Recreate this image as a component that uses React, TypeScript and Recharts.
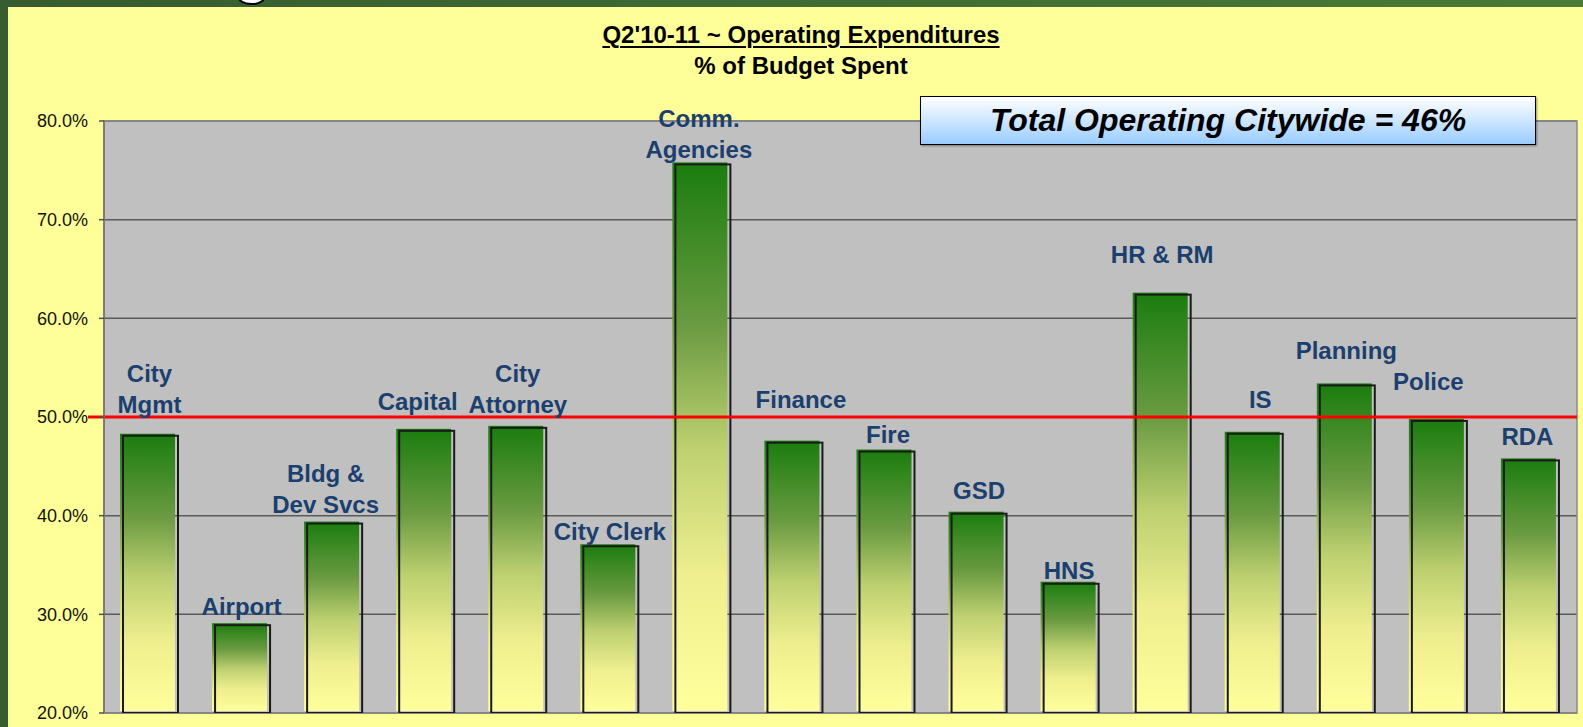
import React from 'react';
import { BarChart, Bar, XAxis, YAxis, CartesianGrid, ReferenceLine, ReferenceArea, LabelList } from 'recharts';

// departments in chart order
const categories = [
  'City Mgmt', 'Airport', 'Bldg & Dev Svcs', 'Capital', 'City Attorney', 'City Clerk',
  'Comm. Agencies', 'Finance', 'Fire', 'GSD', 'HNS', 'HR & RM', 'IS', 'Planning', 'Police', 'RDA',
];
const labelLines = [
  ['City', 'Mgmt'], ['Airport'], ['Bldg &', 'Dev Svcs'], ['Capital'], ['City', 'Attorney'], ['City Clerk'],
  ['Comm.', 'Agencies'], ['Finance'], ['Fire'], ['GSD'], ['HNS'], ['HR & RM'], ['IS'], ['Planning'], ['Police'], ['RDA'],
];
// % of budget spent
const pctSpent = [48.1, 28.9, 39.2, 48.6, 48.9, 36.9, 75.6, 47.4, 46.5, 40.2, 33.1, 62.4, 48.3, 53.2, 49.6, 45.6];
const yTicks = [20, 30, 40, 50, 60, 70, 80];
const targetPct = 50;
const citywidePct = 46;

// label placement: gap above bar top, and sideways nudge (px)
const labelGap = [31, 18, 19, 29, 23, 14, 14, 43, 17, 23, 13, 40, 34, 34, 39, 23];
const labelShift = [0, 0, -8, -8, 0, 0, -3, 7, 2, 1, -1, 0, 6, 0, -10, -3];

const FONT = '"Liberation Sans", Arial, sans-serif';
const LABEL_BLUE = '#1b3f6e';

const chartData = categories.map((name, i) => ({ name, value: pctSpent[i] }));

const GradientBar = (props: any) => {
  const { x, y, width, height, index } = props;
  if (height <= 0) return null;
  const id = `barGrad-${index}`;
  return (
    <g>
      <defs>
        <linearGradient id={id} x1="0" y1="0" x2="0" y2="1">
          <stop offset="0" stopColor="#1a7d0e" />
          <stop offset="0.3" stopColor="#6b9b42" />
          <stop offset="0.52" stopColor="#bdd070" />
          <stop offset="0.75" stopColor="#eeee8e" />
          <stop offset="1" stopColor="#ffff9c" />
        </linearGradient>
      </defs>
      <rect x={x - 3} y={y - 2} width={width} height={height} fill={`url(#${id})`} />
      <rect x={x} y={y} width={width} height={height} fill="none" stroke="#1a1a1a" strokeWidth={2} />
    </g>
  );
};

const DeptLabel = (props: any) => {
  const vb = props.viewBox || {};
  const x = props.x ?? vb.x;
  const y = props.y ?? vb.y;
  const width = props.width ?? vb.width;
  const i = categories.indexOf(props.value);
  if (i < 0) return null;
  const lines = labelLines[i];
  const cx = x + width / 2 - 1 + labelShift[i];
  const lastCenter = y - labelGap[i];
  return (
    <text textAnchor="middle" fill={LABEL_BLUE} fontFamily={FONT} fontWeight="bold" fontSize={24}>
      {lines.map((ln, k) => (
        <tspan key={k} x={cx} y={lastCenter - (lines.length - 1 - k) * 31 + 8}>{ln}</tspan>
      ))}
    </text>
  );
};

export default function App() {
  return (
    <div style={{ position: 'absolute', left: 0, top: 0, width: 1583, height: 727, background: 'linear-gradient(90deg, #365c30, #4a7a36)', overflow: 'hidden', fontFamily: FONT }}>
      {/* cut-off slide title glyph */}
      <div style={{ position: 'absolute', left: 234, top: -58, fontSize: 60, lineHeight: '60px', fontWeight: 'bold', color: '#fff', WebkitTextStroke: '2px #000' }}>g</div>
      <div style={{ position: 'absolute', left: 8, top: 7, width: 1575, height: 720, background: '#ffff99' }} />

      <div style={{ position: 'absolute', left: 0, top: 0 }}>
        <BarChart width={1583} height={727} data={chartData} margin={{ top: 121, right: 6, bottom: 14, left: 8 }}>
          <CartesianGrid vertical={false} stroke="#5a5a5a" strokeWidth={1.5} fill="#c0c0c0" />
          <ReferenceArea y1={20} y2={80} fill="none" stroke="#8a8a8a" strokeWidth={1.5} />
          <XAxis dataKey="name" hide />
          <YAxis
            domain={[20, 80]}
            ticks={yTicks}
            width={96}
            tickSize={5}
            tickMargin={11}
            interval={0}
            allowDataOverflow
            axisLine={{ stroke: '#707070', strokeWidth: 1.5 }}
            tickLine={{ stroke: '#505050', strokeWidth: 1.5 }}
            tick={{ fontSize: 18, fill: '#111', fontFamily: FONT }}
            tickFormatter={(v: number) => `${v.toFixed(1)}%`}
          />
          <Bar dataKey="value" barSize={55} shape={<GradientBar />} isAnimationActive={false}>
            <LabelList dataKey="name" content={<DeptLabel />} />
          </Bar>
          <ReferenceLine
            y={targetPct}
            stroke="#ff0000"
            strokeWidth={3}
            shape={(p: any) => <line x1={p.x1 - 16} y1={p.y1} x2={p.x2} y2={p.y2} stroke="#ff0000" strokeWidth={3} />}
          />
        </BarChart>
      </div>

      <div style={{ position: 'absolute', left: 401, top: 19, width: 800, textAlign: 'center', fontWeight: 'bold', fontSize: 24, color: '#000', lineHeight: '31px' }}>
        <div style={{ textDecoration: 'underline', textDecorationThickness: 2, textUnderlineOffset: 3 }}>Q2'10-11 ~ Operating Expenditures</div>
        <div>% of Budget Spent</div>
      </div>

      <div style={{
        position: 'absolute', left: 920, top: 96, width: 614, height: 47,
        border: '1.5px solid #000', background: 'linear-gradient(180deg, #ffffff 0%, #d8ebff 40%, #99ccff 100%)',
        boxShadow: '1px 1px 2px rgba(0,0,0,0.4)', textAlign: 'center', lineHeight: '47px',
        fontSize: 32, fontWeight: 'bold', fontStyle: 'italic', color: '#000',
      }}>
        {`Total Operating Citywide = ${citywidePct}%`}
      </div>
    </div>
  );
}
